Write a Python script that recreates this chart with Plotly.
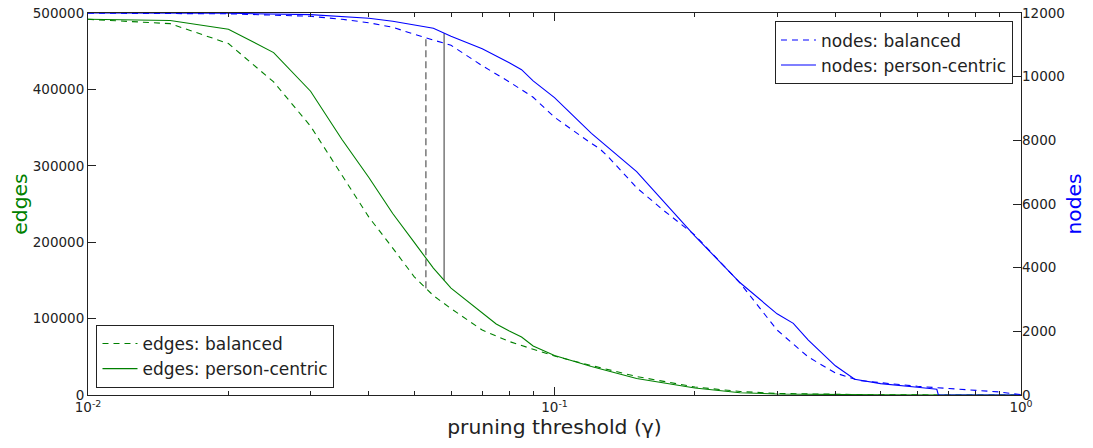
import numpy as np
import plotly.graph_objects as go

# ---- data ----
x_edges_pc = [0.01, 0.015, 0.02, 0.025, 0.03, 0.035, 0.04, 0.045, 0.05, 0.055, 0.06, 0.07, 0.075,
              0.08, 0.085, 0.09, 0.1, 0.12, 0.15, 0.2, 0.25, 0.3, 0.4, 0.5, 0.7, 1.0]
edges_pc = [491800, 490100, 478700, 448200, 397600, 334800, 284700, 237500, 200000, 166100, 139900,
            107900, 92900, 83700, 75900, 64100, 51700, 37300, 21600, 9200, 3000, 1300, 500, 200, 50, 0]

x_edges_bal = [0.01, 0.015, 0.02, 0.025, 0.03, 0.035, 0.04, 0.045, 0.05, 0.055, 0.06, 0.07, 0.08,
               0.09, 0.1, 0.12, 0.15, 0.2, 0.25, 0.3, 0.4, 0.5, 0.7, 1.0]
edges_bal = [491800, 486100, 460000, 409800, 351800, 287700, 232800, 192300, 155000, 130100, 113100,
             85000, 70000, 59900, 51000, 38600, 24200, 10500, 4600, 2000, 650, 200, 50, 0]

x_nodes_pc = [0.01, 0.02, 0.03, 0.035, 0.04, 0.045, 0.05, 0.055, 0.06, 0.07, 0.08, 0.085, 0.09, 0.1,
              0.12, 0.15, 0.2, 0.25, 0.3, 0.325, 0.35, 0.4, 0.44, 0.5, 0.6, 0.66, 0.665, 0.7, 1.0]
nodes_pc = [12000, 11990, 11950, 11900, 11834, 11740, 11630, 11520, 11270, 10880, 10440, 10220, 9870,
            9340, 8220, 7020, 4990, 3525, 2550, 2250, 1726, 917, 493, 358, 245, 180, 0, 0, 0]

x_nodes_bal = [0.01, 0.02, 0.03, 0.035, 0.04, 0.045, 0.05, 0.055, 0.06, 0.07, 0.08, 0.09, 0.1, 0.12,
               0.125, 0.13, 0.15, 0.17, 0.2, 0.25, 0.3, 0.35, 0.4, 0.45, 0.5, 0.6, 0.7, 0.8, 0.9, 1.0]
nodes_bal = [11995, 11975, 11897, 11803, 11693, 11552, 11332, 11143, 10987, 10343, 9837, 9354, 8726,
             7901, 7735, 7502, 6513, 5839, 5022, 3516, 2040, 1193, 691, 455, 386, 273, 204, 147, 94, 10]

knee_balanced = 0.053
knee_pc = 0.058

edges_range = [0, 500000]
nodes_range = [0, 12000]
edges_ticks = [0, 100000, 200000, 300000, 400000, 500000]
nodes_ticks = [0, 2000, 4000, 6000, 8000, 10000, 12000]
x_tickvals = [0.01, 0.1, 1]
x_ticktext = ["10<sup>-2</sup>", "10<sup>-1</sup>", "10<sup>0</sup>"]
x_minor = [0.02, 0.03, 0.04, 0.05, 0.06, 0.07, 0.08, 0.09,
           0.2, 0.3, 0.4, 0.5, 0.6, 0.7, 0.8, 0.9]

GREEN = "#008000"
BLUE = "#0000ff"
GREY = "#808080"
AX = "#222222"
FONT = "DejaVu Sans"


def interp_log(xq, xs, ys):
    return float(np.interp(np.log10(xq), np.log10(xs), ys))


scale = edges_range[1] / nodes_range[1]

fig = go.Figure()

# knee marker lines (from edge curve up to node curve), drawn on edges axis
fig.add_trace(go.Scatter(
    x=[knee_balanced, knee_balanced],
    y=[interp_log(knee_balanced, x_edges_bal, edges_bal),
       interp_log(knee_balanced, x_nodes_bal, nodes_bal) * scale],
    mode="lines", line=dict(color=GREY, width=1.6, dash="7px,4px"),
    showlegend=False, hoverinfo="skip", yaxis="y"))
fig.add_trace(go.Scatter(
    x=[knee_pc, knee_pc],
    y=[interp_log(knee_pc, x_edges_pc, edges_pc),
       interp_log(knee_pc, x_nodes_pc, nodes_pc) * scale],
    mode="lines", line=dict(color=GREY, width=1.6),
    showlegend=False, hoverinfo="skip", yaxis="y"))

# edges (left axis)
fig.add_trace(go.Scatter(x=x_edges_bal, y=edges_bal, mode="lines", name="edges: balanced",
                         line=dict(color=GREEN, width=1.1, dash="6px,5px"),
                         yaxis="y", legend="legend2"))
fig.add_trace(go.Scatter(x=x_edges_pc, y=edges_pc, mode="lines", name="edges: person-centric",
                         line=dict(color=GREEN, width=1.1),
                         yaxis="y", legend="legend2"))

# nodes (right axis)
fig.add_trace(go.Scatter(x=x_nodes_bal, y=nodes_bal, mode="lines", name="nodes: balanced",
                         line=dict(color=BLUE, width=1.1, dash="6px,5px"),
                         yaxis="y2", legend="legend"))
fig.add_trace(go.Scatter(x=x_nodes_pc, y=nodes_pc, mode="lines", name="nodes: person-centric",
                         line=dict(color=BLUE, width=1.1),
                         yaxis="y2", legend="legend"))

fig.update_layout(
    width=1085, height=440,
    margin=dict(l=79.5, r=72, t=4.7, b=53),
    paper_bgcolor="white", plot_bgcolor="white",
    font=dict(family=FONT, size=13.5, color=AX),
    xaxis=dict(
        type="log", range=[-2, 0], automargin=False,
        tickvals=x_tickvals, ticktext=x_ticktext,
        ticks="inside", ticklen=8, tickcolor=AX, tickwidth=1,
        minor=dict(tickvals=x_minor, ticks="inside", ticklen=4, tickcolor=AX, tickwidth=1,
                   showgrid=False),
        showline=True, linecolor=AX, linewidth=1, mirror="ticks",
        showgrid=False, zeroline=False,
        tickfont=dict(size=13.5),
        title=dict(text="pruning threshold (γ)", font=dict(size=20.3, color=AX), standoff=3),
    ),
    yaxis=dict(
        range=edges_range, tickvals=edges_ticks, ticktext=[str(v) for v in edges_ticks],
        automargin=False, ticklabeloverflow="allow",
        ticks="inside", ticklen=8, tickcolor=AX,
        showline=True, linecolor=AX, linewidth=1, mirror=True,
        showgrid=False, zeroline=False,
        tickfont=dict(size=13.5),
        title=dict(text="edges", font=dict(size=20.3, color=GREEN), standoff=0),
    ),
    yaxis2=dict(
        range=nodes_range, tickvals=nodes_ticks, ticktext=[str(v) for v in nodes_ticks],
        automargin=False, ticklabeloverflow="allow",
        overlaying="y", side="right",
        ticks="inside", ticklen=8, tickcolor=AX,
        showline=False, showgrid=False, zeroline=False,
        tickfont=dict(size=13.5),
        title=dict(text="nodes", font=dict(size=20.3, color=BLUE), standoff=2),
    ),
    legend=dict(
        x=0.9914, y=0.978, xanchor="right", yanchor="top",
        bgcolor="white", bordercolor=AX, borderwidth=1,
        font=dict(size=17, color=AX), itemwidth=35,
    ),
    legend2=dict(
        x=0.0091, y=0.0183, xanchor="left", yanchor="bottom",
        bgcolor="white", bordercolor=AX, borderwidth=1,
        font=dict(size=17, color=AX), itemwidth=35,
    ),
)

fig.write_html("out.html")
